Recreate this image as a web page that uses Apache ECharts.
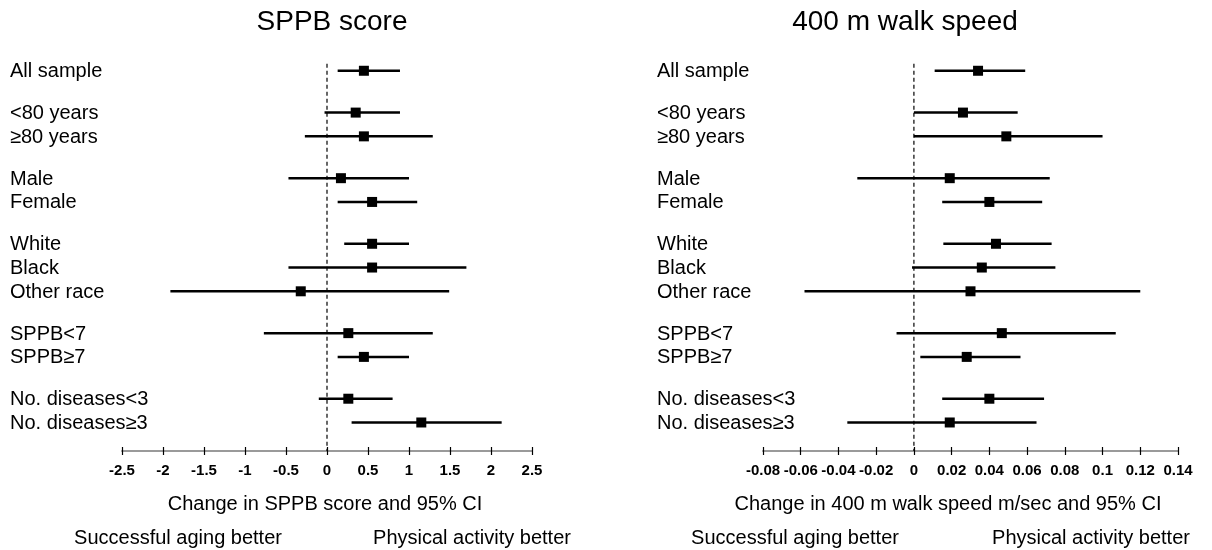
<!DOCTYPE html>
<html>
<head>
<meta charset="utf-8">
<script src="https://cdn.jsdelivr.net/npm/echarts@6/dist/echarts.min.js"></script>
<style>html,body{margin:0;padding:0;background:#fff}#c{width:1212px;height:550px}</style>
</head>
<body>
<div id="c"></div>
<script>
const categories = ["All sample","<80 years","≥80 years","Male","Female","White","Black","Other race","SPPB<7","SPPB≥7","No. diseases<3","No. diseases≥3"];
const groupIndex = [0,1,1,2,2,3,3,3,4,4,5,5];

const sppbEst  = [0.45, 0.35, 0.45, 0.17, 0.55, 0.55, 0.55, -0.32, 0.26, 0.45, 0.26, 1.15];
const sppbLow  = [0.13, -0.03, -0.27, -0.47, 0.13, 0.21, -0.47, -1.91, -0.77, 0.13, -0.10, 0.30];
const sppbHigh = [0.89, 0.89, 1.29, 1.00, 1.10, 1.00, 1.70, 1.49, 1.29, 1.00, 0.80, 2.13];

const walkEst  = [0.034, 0.026, 0.049, 0.019, 0.040, 0.0435, 0.036, 0.030, 0.0466, 0.028, 0.040, 0.019];
const walkLow  = [0.011, 0.000, 0.000, -0.030, 0.015, 0.0156, -0.001, -0.058, -0.0092, 0.0034, 0.015, -0.0353];
const walkHigh = [0.059, 0.055, 0.100, 0.072, 0.068, 0.073, 0.075, 0.120, 0.107, 0.0565, 0.069, 0.065];

const sppbAxis = {min: -2.5, max: 2.5, interval: 0.5};
const walkAxis = {min: -0.08, max: 0.14, interval: 0.02};

const panelTitles = ["SPPB score", "400 m walk speed"];
const axisTitles = ["Change in SPPB score and 95% CI", "Change in 400 m walk speed m/sec and 95% CI"];
const footerLeft = "Successful aging better";
const footerRight = "Physical activity better";

const FONT = "'Liberation Sans', Arial, Helvetica, sans-serif";
const GAP = 0.76;
const rowPos = categories.map((c, i) => i + groupIndex[i] * GAP);

function buildData(est, low, high) {
  return categories.map((c, i) => [est[i], low[i], high[i], rowPos[i], c]);
}

function forestSeries(xi, data, labelOffset) {
  return {
    type: 'custom',
    xAxisIndex: xi, yAxisIndex: xi,
    data: data,
    encode: {x: [0, 1, 2], y: 3},
    clip: false,
    renderItem: function (params, api) {
      const y = api.value(3);
      const pE = api.coord([api.value(0), y]);
      const pL = api.coord([api.value(1), y]);
      const pH = api.coord([api.value(2), y]);
      const s = 10;
      return {
        type: 'group',
        children: [
          {type: 'line', shape: {x1: pL[0], y1: pL[1], x2: pH[0], y2: pH[1]},
           style: {stroke: '#000', lineWidth: 2.5}},
          {type: 'rect', shape: {x: pE[0] - s / 2, y: pE[1] - s / 2, width: s, height: s},
           style: {fill: '#000'}},
          {type: 'text', x: params.coordSys.x - labelOffset, y: pE[1] + 1,
           style: {text: data[params.dataIndex][4], fill: '#000', font: '20px ' + FONT,
                   align: 'left', verticalAlign: 'middle', textAlign: 'left', textVerticalAlign: 'middle'}}
        ]
      };
    }
  };
}

function refLine(xi) {
  return {
    type: 'line', xAxisIndex: xi, yAxisIndex: xi,
    data: [[0, -0.3], [0, 16]], symbol: 'none', silent: true,
    lineStyle: {color: '#000', width: 1.2, type: [4, 3]}
  };
}

function mainXAxis(gridIndex, cfg, labelSize) {
  return {type: 'value', gridIndex: gridIndex, min: cfg.min, max: cfg.max, interval: cfg.interval,
    position: 'bottom', splitLine: {show: false},
    axisLine: {show: true, onZero: false, lineStyle: {color: '#9a9a9a', width: 2}},
    axisTick: {show: true, inside: true, length: 4, lineStyle: {color: '#000', width: 1.2}},
    axisLabel: {show: true, interval: 0, hideOverlap: false, margin: 12, color: '#000',
                fontSize: labelSize, fontWeight: 'bold', fontFamily: FONT}};
}
function tickXAxis(gridIndex, cfg) {
  return {type: 'value', gridIndex: gridIndex, min: cfg.min, max: cfg.max, interval: cfg.interval,
    position: 'bottom', splitLine: {show: false},
    axisLine: {show: false, onZero: false},
    axisTick: {show: true, inside: false, length: 4, lineStyle: {color: '#000', width: 1.2}},
    axisLabel: {show: false}};
}
function hiddenY(gridIndex) {
  return {type: 'value', gridIndex: gridIndex, inverse: true, min: -1, max: 16, show: false,
          axisLine: {onZero: false}};
}

function txt(text, x, y, size) {
  return {type: 'text', x: x, y: y, silent: true,
          style: {text: text, fill: '#000', font: size + 'px ' + FONT,
                  align: 'center', verticalAlign: 'middle', textAlign: 'center', textVerticalAlign: 'middle'}};
}

const gridLeft = {left: 122, width: 410, top: 47, height: 404};
const gridRight = {left: 763, width: 415, top: 47, height: 404};

const option = {
  backgroundColor: '#fff',
  animation: false,
  grid: [gridLeft, gridRight, Object.assign({}, gridLeft), Object.assign({}, gridRight)],
  xAxis: [mainXAxis(0, sppbAxis, 15), mainXAxis(1, walkAxis, 15), tickXAxis(2, sppbAxis), tickXAxis(3, walkAxis)],
  yAxis: [hiddenY(0), hiddenY(1), hiddenY(2), hiddenY(3)],
  series: [
    refLine(0), refLine(1),
    forestSeries(0, buildData(sppbEst, sppbLow, sppbHigh), 112),
    forestSeries(1, buildData(walkEst, walkLow, walkHigh), 106)
  ],
  graphic: [
    txt(panelTitles[0], 332, 22, 28),
    txt(panelTitles[1], 905, 22, 28),
    txt(axisTitles[0], 325, 504, 20),
    txt(axisTitles[1], 948, 504, 20),
    txt(footerLeft, 178, 538, 20),
    txt(footerRight, 472, 538, 20),
    txt(footerLeft, 795, 538, 20),
    txt(footerRight, 1091, 538, 20)
  ]
};

const chart = echarts.init(document.getElementById('c'), null, {renderer: 'canvas'});
chart.setOption(option);
</script>
</body>
</html>
